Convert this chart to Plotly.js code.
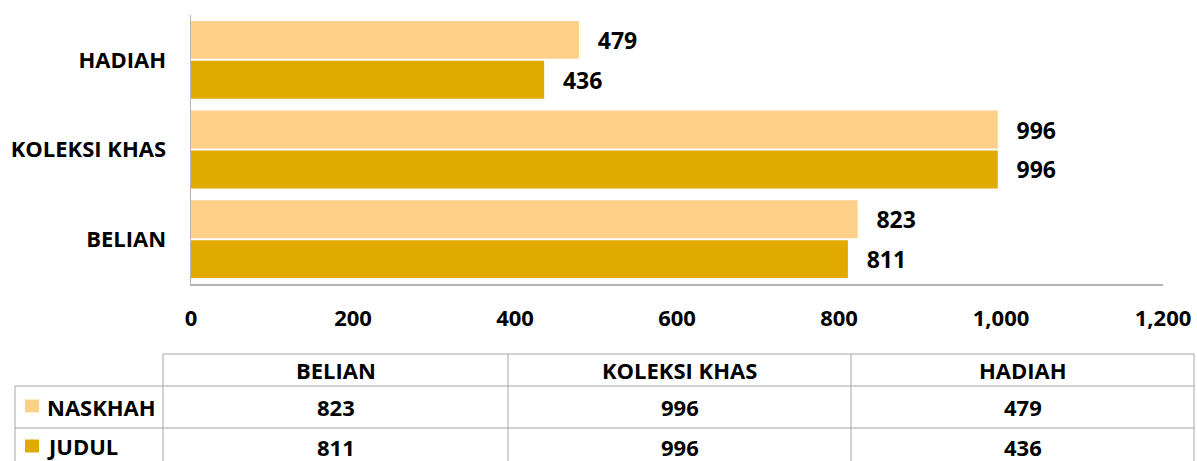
<!DOCTYPE html>
<html>
<head>
<meta charset="utf-8">
<script src="https://cdn.plot.ly/plotly-3.0.1.min.js"></script>
<style>html,body{margin:0;padding:0;background:#fff;}#chart{width:1197px;height:461px;}</style>
</head>
<body>
<div id="chart"></div>
<script>
// ---- data ----
const categories = ["BELIAN", "KOLEKSI KHAS", "HADIAH"];
const naskhah = [823, 996, 479];
const judul = [811, 996, 436];
const seriesNames = ["NASKHAH", "JUDUL"];
const xTickVals = [0, 200, 400, 600, 800, 1000, 1200];

// ---- styles ----
const FONT = "'Open Sans', sans-serif";
const LIGHT = "#FED08A";
const DARK = "#E1AA00";
const GRID = "#A6A6A6";
const W = 1197, H = 461;
const M = {l: 191, r: 34, t: 15, b: 177};
const PW = W - M.l - M.r, PH = H - M.t - M.b;
const px = x => (x - M.l) / PW;
const py = y => (H - M.b - y) / PH;

const pad = "\u00A0\u00A0\u2009";
const lblFont = {family: FONT, size: 23, color: "#000", weight: "bold"};
const traces = [
  {type: "bar", orientation: "h", name: seriesNames[1], y: categories, x: judul,
   marker: {color: DARK}, text: judul.map(v => pad + v), textposition: "outside",
   textfont: lblFont, cliponaxis: false, hoverinfo: "x+y"},
  {type: "bar", orientation: "h", name: seriesNames[0], y: categories, x: naskhah,
   marker: {color: LIGHT}, text: naskhah.map(v => pad + v), textposition: "outside",
   textfont: lblFont, cliponaxis: false, hoverinfo: "x+y"}
];

// ---- table (built from the arrays) ----
const colX = [163, 508, 851, 1194];
const rowY = [354, 386, 428, 480];
const shapes = [];
const annotations = [];
const line = (x0, y0, x1, y1) => shapes.push({type: "line", xref: "paper", yref: "paper",
  x0: px(x0), y0: py(y0), x1: px(x1), y1: py(y1), line: {color: GRID, width: 1}});
line(colX[0], rowY[0], colX[3], rowY[0]);
line(15, rowY[1], colX[3], rowY[1]);
line(15, rowY[2], colX[3], rowY[2]);
colX.forEach(x => line(x, rowY[0], x, rowY[3]));
line(15, rowY[1], 15, rowY[3]);

const tf = {family: FONT, size: 22, color: "#000", weight: "bold"};
const rowVals = [naskhah, judul];
const rowColors = [LIGHT, DARK];
categories.forEach((c, i) => {
  const cx = (colX[i] + colX[i + 1]) / 2;
  annotations.push({xref: "paper", yref: "paper", x: px(cx), y: py((rowY[0] + rowY[1]) / 2),
    text: c, showarrow: false, font: tf, xanchor: "center", yanchor: "middle"});
  rowVals.forEach((vals, r) => {
    annotations.push({xref: "paper", yref: "paper", x: px(cx), y: py(r === 0 ? 407 : 447),
      text: String(vals[i]), showarrow: false, font: tf, xanchor: "center", yanchor: "middle"});
  });
});
seriesNames.forEach((n, r) => {
  const yc = r === 0 ? 406 : 446;
  shapes.push({type: "rect", xref: "paper", yref: "paper", x0: px(25), x1: px(39),
    y0: py(yc - 6.5), y1: py(yc + 6.5), fillcolor: rowColors[r], line: {width: 0}});
  annotations.push({xref: "paper", yref: "paper", x: px(45), y: py(yc + 0.5),
    text: n, showarrow: false, font: tf, xanchor: "left", yanchor: "middle"});
});

const layout = {
  width: W, height: H,
  margin: M,
  paper_bgcolor: "#fff", plot_bgcolor: "#fff",
  barmode: "group", bargap: 0.11, bargroupgap: 0.05,
  showlegend: false,
  font: {family: FONT, size: 22, color: "#000"},
  xaxis: {range: [0, 1200], tickvals: xTickVals, tickformat: ",d", showgrid: false, zeroline: false,
    showline: true, linecolor: "#B4B4B4", linewidth: 1.5, ticks: "outside", ticklen: 14,
    tickcolor: "rgba(0,0,0,0)", tickfont: tf, fixedrange: true},
  yaxis: {categoryorder: "array", categoryarray: categories, showgrid: false, zeroline: false,
    showline: true, linecolor: "#B4B4B4", linewidth: 1.5, ticks: "outside", ticklen: 19,
    tickcolor: "rgba(0,0,0,0)", tickfont: tf, fixedrange: true},
  shapes: shapes,
  annotations: annotations
};

Plotly.newPlot("chart", traces, layout, {displayModeBar: false, staticPlot: true});
</script>
</body>
</html>
